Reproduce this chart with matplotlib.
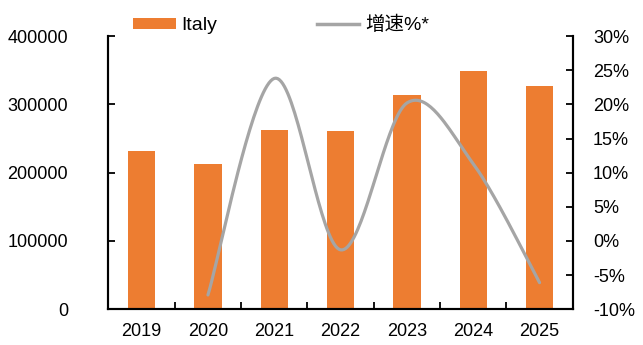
import numpy as np
import matplotlib
matplotlib.use("Agg")
import matplotlib.pyplot as plt
from matplotlib.patches import Patch
from matplotlib.lines import Line2D

plt.rcParams['font.family'] = ['Liberation Sans', 'Noto Sans CJK SC', 'DejaVu Sans']

years = ["2019", "2020", "2021", "2022", "2023", "2024", "2025"]
sales = [231000, 213000, 263000, 260500, 313000, 348500, 327500]
growth = [np.nan, -7.9, 23.8, -1.3, 20.2, 11.3, -6.1]

bar_color = "#ED7D31"
line_color = "#A5A5A5"


def smooth_curve(xs, ys, n=40):
    """Catmull-Rom style smoothing through the given points (Bezier segments)."""
    xs = np.asarray(xs, float)
    ys = np.asarray(ys, float)
    m = len(xs)
    out_x, out_y = [], []
    for i in range(m - 1):
        p0 = np.array([xs[max(i - 1, 0)], ys[max(i - 1, 0)]])
        p1 = np.array([xs[i], ys[i]])
        p2 = np.array([xs[i + 1], ys[i + 1]])
        p3 = np.array([xs[min(i + 2, m - 1)], ys[min(i + 2, m - 1)]])
        c1 = p1 + (p2 - p0) / 6.0
        c2 = p2 - (p3 - p1) / 6.0
        t = np.linspace(0, 1, n)[:, None]
        pts = ((1 - t) ** 3) * p1 + 3 * ((1 - t) ** 2) * t * c1 + 3 * (1 - t) * t ** 2 * c2 + t ** 3 * p2
        out_x.extend(pts[:, 0])
        out_y.extend(pts[:, 1])
    return np.array(out_x), np.array(out_y)


fig = plt.figure(figsize=(6.43, 3.45), dpi=100)
ax = fig.add_axes([0.1687, 0.1035, 0.722, 0.792])
x = np.arange(len(years))
ax.bar(x, sales, width=0.41, color=bar_color, zorder=2)
ax.set_xlim(-0.5, len(years) - 0.5)
ax.set_ylim(0, 400000)
ax.set_yticks([0, 100000, 200000, 300000, 400000])
ax.set_yticklabels([str(v) for v in [0, 100000, 200000, 300000, 400000]])
ax.set_xticks(x)
ax.set_xticklabels(years)
ax.set_xticks(np.arange(0.5, len(years) - 1, 1.0), minor=True)
ax.tick_params(axis='x', which='major', length=0, pad=10, labelsize=13)
ax.tick_params(axis='x', which='minor', direction='in', length=5, width=1.3)
ax.tick_params(axis='y', direction='in', length=5, width=1.3, pad=29, labelsize=13)
for s in ['left', 'bottom', 'right']:
    ax.spines[s].set_linewidth(1.5)
ax.spines['top'].set_visible(False)

ax2 = ax.twinx()
valid = ~np.isnan(np.array(growth, float))
sx, sy = smooth_curve(x[valid], np.array(growth, float)[valid])
ax2.plot(sx, sy, color=line_color, lw=2.3, solid_capstyle='round', zorder=3)
ax2.set_ylim(-10, 30)
ax2.set_yticks(np.arange(-10, 31, 5))
ax2.set_yticklabels([f"{v}%" for v in range(-10, 31, 5)])
ax2.tick_params(axis='y', direction='in', length=5, width=1.3, pad=14.5, labelsize=13)
for s in ['left', 'bottom', 'right']:
    ax2.spines[s].set_linewidth(1.5)
ax2.spines['top'].set_visible(False)

handles = [Patch(facecolor=bar_color, edgecolor='none'),
           Line2D([0], [0], color=line_color, lw=2.5)]
fig.legend(handles, ["Italy", "增速%*"], loc='center', bbox_to_anchor=(0.437, 0.927),
           ncol=2, frameon=False, fontsize=14, handlelength=2.2, handleheight=0.55,
           columnspacing=5.1, handletextpad=0.3)

fig.savefig("out.png", dpi=100)
